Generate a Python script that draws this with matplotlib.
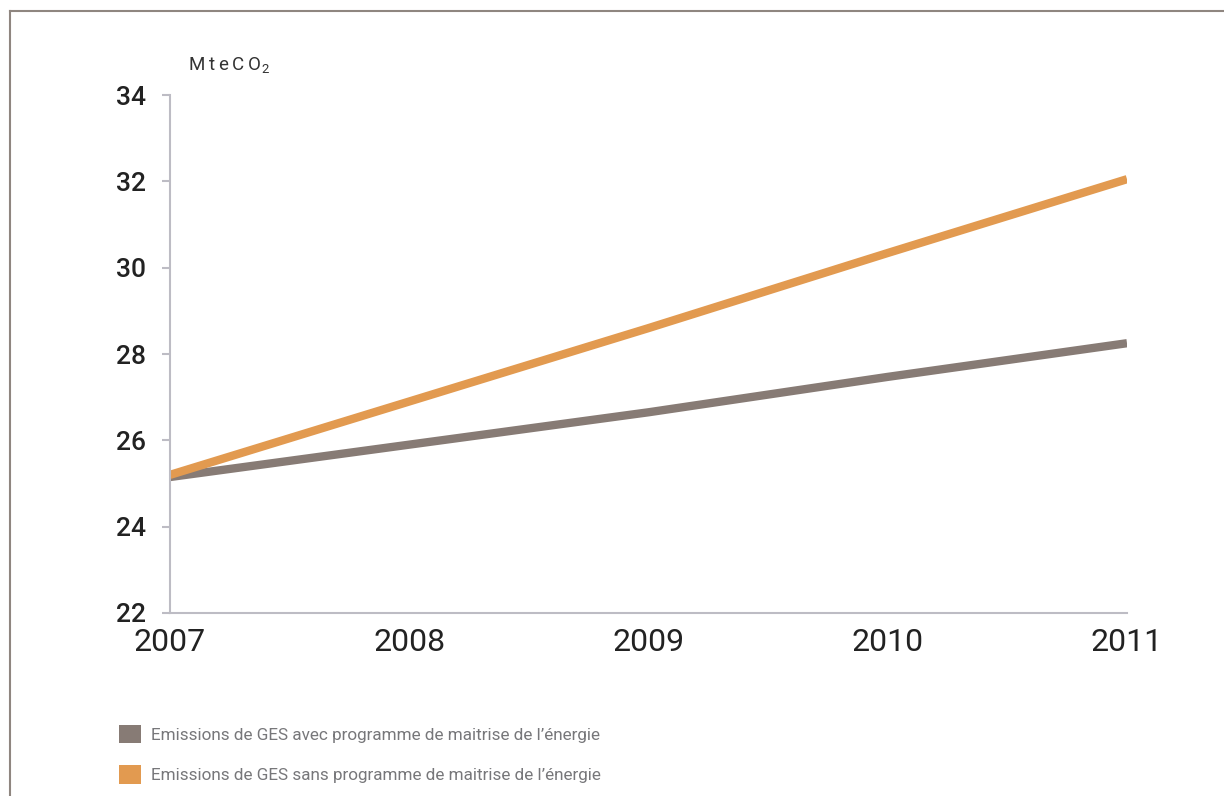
import matplotlib.pyplot as plt
from matplotlib.lines import Line2D
from matplotlib.patches import Patch

# Data
years = [2007, 2008, 2009, 2010, 2011]
avec_programme = [25.15, 25.9, 26.65, 27.47, 28.25]
sans_programme = [25.2, 26.9, 28.6, 30.34, 32.05]
labels = ['Emissions de GES avec programme de maitrise de l\u2019énergie',
          'Emissions de GES sans programme de maitrise de l\u2019énergie']
y_ticks = [22, 24, 26, 28, 30, 32, 34]

grey = '#877b75'
orange = '#e29a50'
axis_col = '#bdbcc4'

plt.rcParams['font.family'] = ['Roboto', 'DejaVu Sans']
plt.rcParams['mathtext.default'] = 'regular'

fig = plt.figure(figsize=(12.24, 7.96), dpi=100)
ax = fig.add_axes([170 / 1224, 1 - 613 / 796, (1127 - 170) / 1224, (613 - 95) / 796])

ax.plot(years, avec_programme, color=grey, linewidth=6, solid_capstyle='butt')
ax.plot(years, sans_programme, color=orange, linewidth=6, solid_capstyle='butt')

ax.set_xlim(2007, 2011)
ax.set_ylim(22, 34)
ax.set_xticks(years)
ax.set_xticklabels([str(y) for y in years])
ax.set_xticks([2007], minor=True)
ax.set_yticks(y_ticks)

for side in ['top', 'right']:
    ax.spines[side].set_visible(False)
for side in ['left', 'bottom']:
    ax.spines[side].set_color(axis_col)
    ax.spines[side].set_linewidth(1.5)

ax.tick_params(axis='y', length=6, width=1.5, color=axis_col, pad=11,
               labelsize=19, labelcolor='#222222')
ax.tick_params(axis='x', which='major', length=0, pad=11,
               labelsize=23, labelcolor='#222222')
ax.tick_params(axis='x', which='minor', length=8, width=1.5, color=axis_col)
for lbl in ax.get_yticklabels():
    lbl.set_fontweight('medium')

fig.text(188 / 1224, 1 - 70 / 796, 'M\u2009t\u2009e\u2009C\u2009O$_{2}$',
         fontsize=13.5, color='#333333')

# Frame around the figure (top and left edges)
fig.add_artist(Line2D([9.5 / 1224, 1], [1 - 10.5 / 796, 1 - 10.5 / 796],
                      color='#8f8680', linewidth=1.5))
fig.add_artist(Line2D([9.5 / 1224, 9.5 / 1224], [0, 1 - 10.5 / 796],
                      color='#8f8680', linewidth=1.5))

handles = [Patch(facecolor=grey, edgecolor='none'), Patch(facecolor=orange, edgecolor='none')]
leg = fig.legend(handles, labels, loc='lower left', bbox_to_anchor=(119 / 1224, 12 / 796),
                 frameon=False, fontsize=12.3, handlelength=1.3, handleheight=1.3,
                 handletextpad=0.6, labelspacing=1.3, borderaxespad=0, borderpad=0)
for t in leg.get_texts():
    t.set_color('#77777a')

plt.savefig('out.png', dpi=100)
